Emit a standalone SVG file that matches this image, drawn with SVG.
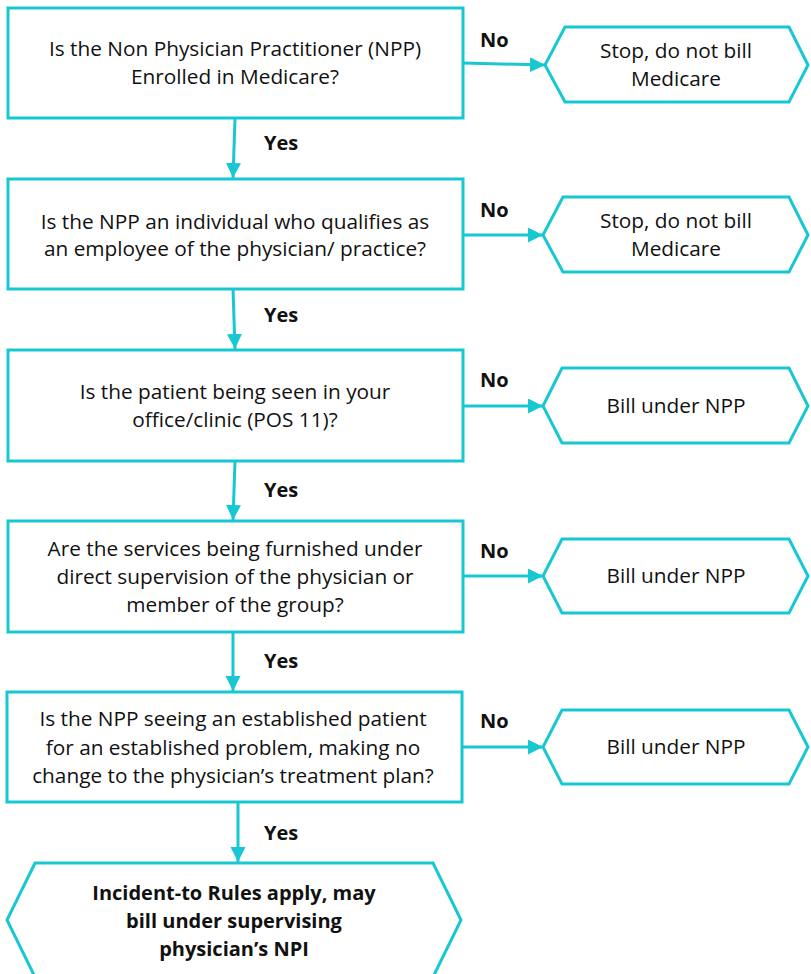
<svg xmlns="http://www.w3.org/2000/svg" width="811" height="974" viewBox="0 0 811 974">
<defs>
<style>
.box{fill:#fff;stroke:#17c8d2;stroke-width:3}
.hex{fill:#fff;stroke:#17c8d2;stroke-width:3;stroke-linejoin:miter}
.ln{stroke:#17c8d2;stroke-width:3;fill:none}
.t{font-family:"Open Sans","Liberation Sans",sans-serif;font-size:20.8px;fill:#111;text-anchor:middle}
.b{font-family:"Open Sans","Liberation Sans",sans-serif;font-size:20px;font-weight:bold;fill:#111}
.bc{text-anchor:middle}
</style>
<marker id="ah" markerWidth="16" markerHeight="16" refX="15" refY="7.5" orient="auto" markerUnits="userSpaceOnUse">
<path d="M0,0 L15,7.5 L0,15 Z" fill="#17c8d2"/>
</marker>
</defs>
<rect width="811" height="974" fill="#fff"/>
<g id="connectors">
<line class="ln" x1="463" y1="63" x2="545" y2="65" marker-end="url(#ah)"/>
<line class="ln" x1="463" y1="235" x2="543" y2="235" marker-end="url(#ah)"/>
<line class="ln" x1="463" y1="406" x2="543" y2="406" marker-end="url(#ah)"/>
<line class="ln" x1="463" y1="576" x2="543" y2="576" marker-end="url(#ah)"/>
<line class="ln" x1="463" y1="747" x2="543" y2="747" marker-end="url(#ah)"/>
<line class="ln" x1="235" y1="118" x2="233" y2="178" marker-end="url(#ah)"/>
<line class="ln" x1="233" y1="289" x2="235" y2="349" marker-end="url(#ah)"/>
<line class="ln" x1="235" y1="461" x2="233" y2="520" marker-end="url(#ah)"/>
<line class="ln" x1="233" y1="632" x2="233" y2="691" marker-end="url(#ah)"/>
<line class="ln" x1="238" y1="802" x2="238" y2="862" marker-end="url(#ah)"/>
<text class="b" x="480" y="47">No</text>
<text class="b" x="480" y="217">No</text>
<text class="b" x="480" y="387">No</text>
<text class="b" x="480" y="558">No</text>
<text class="b" x="480" y="728">No</text>
<text class="b" x="264" y="150">Yes</text>
<text class="b" x="264" y="322">Yes</text>
<text class="b" x="264" y="497">Yes</text>
<text class="b" x="264" y="668">Yes</text>
<text class="b" x="264" y="840">Yes</text>
</g>
<g id="q1">
<rect class="box" x="8" y="8" width="455" height="110"/>
<text class="t" x="235" y="56">Is the Non Physician Practitioner (NPP)</text>
<text class="t" x="235" y="84">Enrolled in Medicare?</text>
</g>
<g id="stop1">
<polygon class="hex" points="545,65 565,27 789,27 808,65 789,102 565,102"/>
<text class="t" x="676" y="58">Stop, do not bill</text>
<text class="t" x="676" y="86">Medicare</text>
</g>
<g id="q2">
<rect class="box" x="8" y="179" width="455" height="110"/>
<text class="t" x="235" y="229">Is the NPP an individual who qualifies as</text>
<text class="t" x="235" y="256">an employee of the physician/ practice?</text>
</g>
<g id="stop2">
<polygon class="hex" points="543,235 563,197 789,197 808,235 789,272 563,272"/>
<text class="t" x="676" y="228">Stop, do not bill</text>
<text class="t" x="676" y="256">Medicare</text>
</g>
<g id="q3">
<rect class="box" x="8" y="350" width="455" height="111"/>
<text class="t" x="235" y="399">Is the patient being seen in your</text>
<text class="t" x="235" y="427">office/clinic (POS 11)?</text>
</g>
<g id="npp1">
<polygon class="hex" points="543,406 562,368 789,368 808,406 789,443 562,443"/>
<text class="t" x="676" y="413">Bill under NPP</text>
</g>
<g id="q4">
<rect class="box" x="8" y="521" width="455" height="111"/>
<text class="t" x="235" y="556">Are the services being furnished under</text>
<text class="t" x="235" y="584">direct supervision of the physician or</text>
<text class="t" x="235" y="612">member of the group?</text>
</g>
<g id="npp2">
<polygon class="hex" points="543,576 562,539 789,539 808,576 789,613 562,613"/>
<text class="t" x="676" y="583">Bill under NPP</text>
</g>
<g id="q5">
<rect class="box" x="7" y="692" width="455" height="110"/>
<text class="t" x="233" y="726">Is the NPP seeing an established patient</text>
<text class="t" x="233" y="755">for an established problem, making no</text>
<text class="t" x="233" y="783">change to the physician’s treatment plan?</text>
</g>
<g id="npp3">
<polygon class="hex" points="543,747 562,710 789,710 808,747 789,784 562,784"/>
<text class="t" x="676" y="754">Bill under NPP</text>
</g>
<g id="result">
<polygon class="hex" points="7,920 35,863 433,863 461,920 433,977 35,977"/>
<text class="b bc" x="234" y="900">Incident-to Rules apply, may</text>
<text class="b bc" x="234" y="928">bill under supervising</text>
<text class="b bc" x="234" y="956">physician’s NPI</text>
</g>
</svg>
